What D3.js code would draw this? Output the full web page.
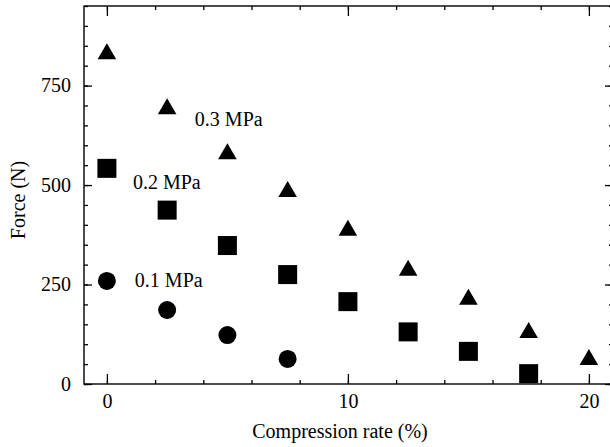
<!DOCTYPE html>
<html lang="en">
<head>
<meta charset="UTF-8">
<title>Force vs compression rate</title>
<script src="https://d3js.org/d3.v7.min.js"></script>
<style>
  body { margin: 0; padding: 0; background: #fff; }
  svg { display: block; }
  text { font-family: "Liberation Serif", "DejaVu Serif", serif; font-size: 20px; fill: #000; }
  .tick line { stroke: #000; stroke-width: 1.3px; }
</style>
</head>
<body>
<div class="chart"></div>
<script>
  /** DATA */
  var compressionRates = [0, 2.5, 5, 7.5, 10, 12.5, 15, 17.5, 20];
  var force03 = [836, 698, 585, 490, 393, 292, 219, 136, 68];  // triangles
  var force02 = [542, 437, 348, 275, 207, 131, 82, 26];        // squares
  var force01 = [259, 186, 123, 63];                           // circles
  var seriesNames = ['0.1 MPa', '0.2 MPa', '0.3 MPa'];
  // label anchors in data units [x, y]
  var labelAnchors = [[1.16, 244], [1.08, 490], [3.65, 649]];
  var xMajorTicks = [0, 10, 20];
  var yMajorTicks = [0, 250, 500, 750];

  /** LAYOUT (note: "top" is reserved on window, so use plot* names) */
  var width = 610, height = 447;
  var plotLeft = 84, plotRight = 613, plotTop = 6, plotBottom = 384;

  var svg = d3.select('.chart').append('svg')
    .attr('width', width)
    .attr('height', height);

  var x = d3.scaleLinear().domain([-0.95, 21]).range([plotLeft, plotRight]);
  var y = d3.scaleLinear().domain([0, 950]).range([plotBottom, plotTop]);

  var xMinor = d3.range(0, 21, 2);
  var yMinor = d3.range(0, 951, 50);

  /** helper: draw ticks only, no domain line */
  function drawAxis(axis, tx, ty) {
    var g = svg.append('g')
      .attr('transform', 'translate(' + tx + ',' + ty + ')')
      .call(axis);
    g.select('.domain').remove();
    g.attr('font-size', null).attr('font-family', null);
    return g;
  }

  // bottom: minor then major with labels
  drawAxis(d3.axisBottom(x).tickValues(xMinor).tickSize(-4).tickFormat(''), 0, plotBottom);
  drawAxis(d3.axisBottom(x).tickValues(xMajorTicks).tickSize(-10).tickPadding(10).tickFormat(d3.format('d')), 0, plotBottom);
  // top
  drawAxis(d3.axisTop(x).tickValues(xMinor).tickSize(-4).tickFormat(''), 0, plotTop);
  drawAxis(d3.axisTop(x).tickValues(xMajorTicks).tickSize(-10).tickFormat(''), 0, plotTop);
  // left
  drawAxis(d3.axisLeft(y).tickValues(yMinor).tickSize(-4).tickFormat(''), plotLeft, 0);
  drawAxis(d3.axisLeft(y).tickValues(yMajorTicks).tickSize(-8).tickPadding(13).tickFormat(d3.format('d')), plotLeft, 0);
  // right
  drawAxis(d3.axisRight(y).tickValues(yMinor).tickSize(-4).tickFormat(''), plotRight, 0);
  drawAxis(d3.axisRight(y).tickValues(yMajorTicks).tickSize(-8).tickFormat(''), plotRight, 0);

  // frame
  svg.append('rect')
    .attr('x', plotLeft).attr('y', plotTop)
    .attr('width', plotRight - plotLeft).attr('height', plotBottom - plotTop)
    .attr('fill', 'none')
    .attr('stroke', '#000')
    .attr('stroke-width', 1.4);

  /** markers */
  var tri = d3.zip(compressionRates, force03);
  var sq = d3.zip(compressionRates.slice(0, force02.length), force02);
  var circ = d3.zip(compressionRates.slice(0, force01.length), force01);

  svg.append('g').selectAll('path')
    .data(tri)
    .enter().append('path')
    .attr('d', function (d) {
      var cx = x(d[0]), cy = y(d[1]), w = 9.3, h = 8;
      return 'M' + cx + ',' + (cy - h) + 'L' + (cx + w) + ',' + (cy + h) + 'L' + (cx - w) + ',' + (cy + h) + 'Z';
    })
    .attr('fill', '#000');

  svg.append('g').selectAll('rect')
    .data(sq)
    .enter().append('rect')
    .attr('x', function (d) { return x(d[0]) - 9.5; })
    .attr('y', function (d) { return y(d[1]) - 9.5; })
    .attr('width', 19)
    .attr('height', 19)
    .attr('fill', '#000');

  svg.append('g').selectAll('circle')
    .data(circ)
    .enter().append('circle')
    .attr('cx', function (d) { return x(d[0]); })
    .attr('cy', function (d) { return y(d[1]); })
    .attr('r', 9)
    .attr('fill', '#000');

  /** series labels */
  svg.append('g').selectAll('text')
    .data(seriesNames)
    .enter().append('text')
    .attr('x', function (d, i) { return x(labelAnchors[i][0]); })
    .attr('y', function (d, i) { return y(labelAnchors[i][1]); })
    .text(function (d) { return d; });

  /** axis titles */
  svg.append('text')
    .attr('x', 340)
    .attr('y', 438)
    .attr('text-anchor', 'middle')
    .text('Compression rate (%)');

  svg.append('text')
    .attr('transform', 'translate(25,200) rotate(-90)')
    .attr('text-anchor', 'middle')
    .text('Force (N)');
</script>
</body>
</html>
